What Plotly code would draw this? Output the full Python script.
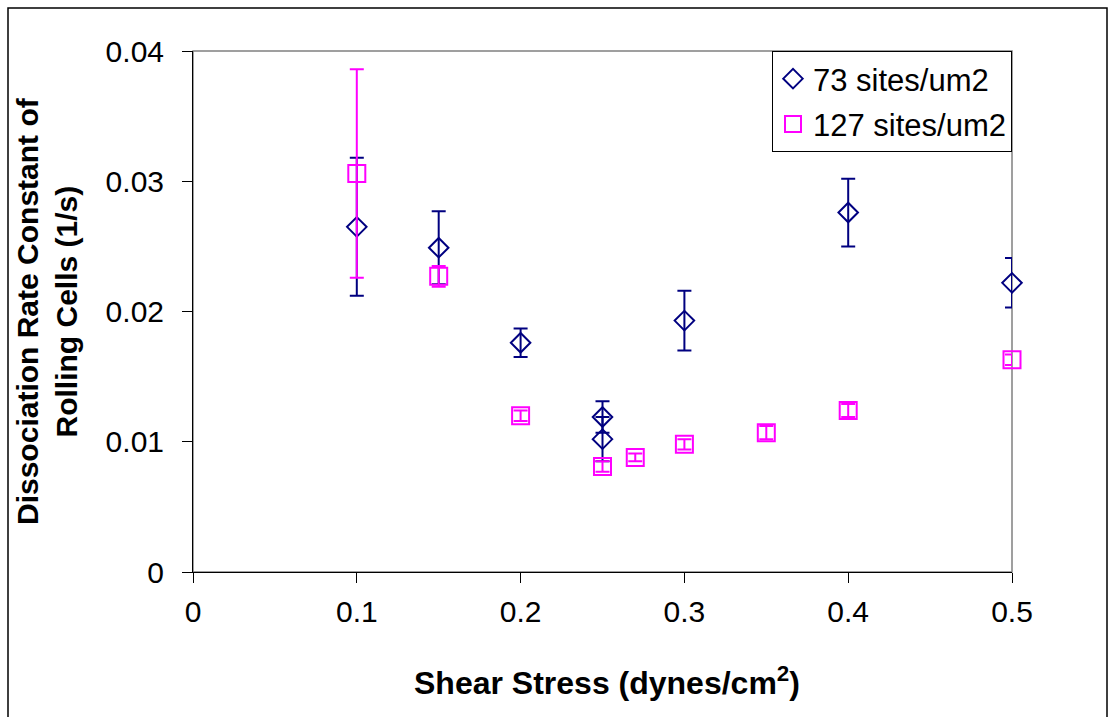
import plotly.graph_objects as go

# Data
x_73 = [0.1, 0.15, 0.2, 0.25, 0.25, 0.3, 0.4, 0.5]
y_73 = [0.0265, 0.0249, 0.0176, 0.0119, 0.0102, 0.0193, 0.0276, 0.0222]
err_73 = [0.0053, 0.0028, 0.0011, 0.0012, 0.0017, 0.0023, 0.0026, 0.0019]

x_127 = [0.1, 0.15, 0.2, 0.25, 0.27, 0.3, 0.35, 0.4, 0.5]
y_127 = [0.0306, 0.0227, 0.0120, 0.0081, 0.0088, 0.0098, 0.0107, 0.0124, 0.0163]
err_127 = [0.0080, 0.0008, 0.0004, 0.0004, 0.0003, 0.0004, 0.0005, 0.0005, 0.0004]

x_ticks = [0, 0.1, 0.2, 0.3, 0.4, 0.5]
y_ticks = [0, 0.01, 0.02, 0.03, 0.04]

NAVY = "#000080"
MAGENTA = "#FF00FF"
FONT = "Liberation Sans, Arial, sans-serif"

fig = go.Figure()
fig.add_trace(go.Scatter(
    x=x_73, y=y_73, mode="markers", name="73 sites/um2", legendgroup="a",
    cliponaxis=False,
    marker=dict(symbol="diamond-open", size=15, color=NAVY, line=dict(width=2, color=NAVY)),
    error_y=dict(type="data", array=err_73, visible=True, color=NAVY, thickness=2, width=7),
))
fig.add_trace(go.Scatter(
    x=x_127, y=y_127, mode="markers", name="127 sites/um2", legendgroup="b",
    cliponaxis=False,
    marker=dict(symbol="square-open", size=17, color=MAGENTA, line=dict(width=2, color=MAGENTA)),
    error_y=dict(type="data", array=err_127, visible=True, color=MAGENTA, thickness=2, width=7),
))

L, R, T, B = 193, 1012, 51, 572
W, H = 1116, 717
pw, ph = R - L, B - T

def px_x(p):
    return (p - L) / pw

def px_y(p):
    return (B - p) / ph

fig.update_layout(
    width=W, height=H,
    margin=dict(l=L, r=W - R, t=T, b=H - B, pad=0),
    paper_bgcolor="white", plot_bgcolor="white",
    font=dict(family=FONT, size=30, color="black"),
    showlegend=True,
    legend=dict(
        x=1, y=1, xanchor="right", yanchor="top",
        bgcolor="white", bordercolor="black", borderwidth=1,
        font=dict(family=FONT, size=31, color="black"),
        itemwidth=30, tracegroupgap=2,
    ),
    xaxis=dict(
        range=[0, 0.5], tickvals=x_ticks, ticktext=[str(v) for v in x_ticks],
        showgrid=False, zeroline=False, showline=True, linecolor="black", linewidth=1,
        ticks="outside", ticklen=10, tickcolor="black", tickwidth=1,
        tickfont=dict(family=FONT, size=30, color="black"),
        ticklabelstandoff=3,
    ),
    yaxis=dict(
        range=[0, 0.04], tickvals=y_ticks, ticktext=[str(v) for v in y_ticks],
        showgrid=False, zeroline=False, showline=True, linecolor="black", linewidth=1,
        ticks="outside", ticklen=10, tickcolor="black", tickwidth=1,
        tickfont=dict(family=FONT, size=30, color="black"),
        ticklabelstandoff=12,
    ),
    shapes=[
        # plot-area border (gray)
        dict(type="rect", xref="paper", yref="paper", x0=0, x1=1, y0=0, y1=1,
             line=dict(color="#808080", width=1.5), layer="below"),
        # outer chart border
        dict(type="rect", xref="paper", yref="paper",
             x0=px_x(8), x1=px_x(1107), y0=px_y(740), y1=px_y(8),
             line=dict(color="black", width=1.5), layer="below"),
    ],
    annotations=[
        dict(text="<b>Shear Stress (dynes/cm<sup>2</sup>)</b>", xref="paper", yref="paper",
             x=px_x(607), y=px_y(681), xanchor="center", yanchor="middle", showarrow=False,
             font=dict(family=FONT, size=32, color="black")),
        dict(text="<b>Dissociation Rate Constant of<br>Rolling Cells (1/s)</b>", xref="paper", yref="paper",
             x=px_x(47), y=px_y(311), xanchor="center", yanchor="middle", showarrow=False,
             textangle=-90, font=dict(family=FONT, size=30, color="black")),
    ],
)

fig.write_html("out.html")
